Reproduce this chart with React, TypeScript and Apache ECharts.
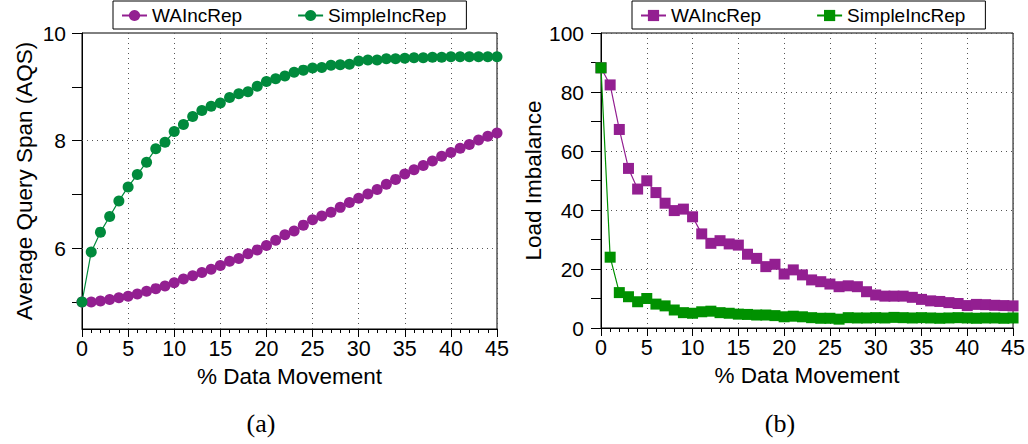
import React, { useEffect, useRef } from 'react';
import * as echarts from 'echarts';

const movement = [0, 1, 2, 3, 4, 5, 6, 7, 8, 9, 10, 11, 12, 13, 14, 15, 16, 17, 18, 19, 20, 21, 22, 23, 24, 25, 26, 27, 28, 29, 30, 31, 32, 33, 34, 35, 36, 37, 38, 39, 40, 41, 42, 43, 44, 45];

const waAqs = [5.0, 5.0, 5.02, 5.05, 5.08, 5.11, 5.15, 5.2, 5.25, 5.3, 5.36, 5.43, 5.49, 5.55, 5.61, 5.68, 5.76, 5.81, 5.9, 5.97, 6.05, 6.15, 6.25, 6.32, 6.43, 6.53, 6.6, 6.67, 6.76, 6.85, 6.93, 7.01, 7.09, 7.19, 7.28, 7.38, 7.46, 7.54, 7.62, 7.71, 7.78, 7.86, 7.93, 8.01, 8.08, 8.14];
const simpleAqs = [5.0, 5.93, 6.3, 6.59, 6.88, 7.14, 7.37, 7.6, 7.85, 7.97, 8.17, 8.3, 8.45, 8.56, 8.64, 8.7, 8.8, 8.87, 8.91, 9.01, 9.1, 9.15, 9.2, 9.27, 9.31, 9.35, 9.36, 9.4, 9.41, 9.42, 9.48, 9.5, 9.5, 9.52, 9.52, 9.53, 9.54, 9.54, 9.55, 9.55, 9.56, 9.56, 9.56, 9.56, 9.56, 9.56];

const waImb = [88.2, 82.4, 67.3, 54.1, 47.1, 49.9, 45.9, 42.3, 39.8, 40.3, 37.7, 31.9, 28.7, 29.6, 28.5, 28.1, 25.0, 23.6, 20.8, 21.6, 18.3, 19.7, 18.0, 16.3, 15.7, 14.9, 14.0, 14.3, 14.0, 12.3, 11.2, 10.8, 10.8, 10.8, 10.4, 9.7, 9.2, 9.0, 8.6, 8.3, 7.6, 8.0, 7.9, 7.7, 7.6, 7.5];
const simpleImb = [88.2, 24.0, 12.0, 10.6, 8.9, 10.0, 8.1, 7.5, 6.1, 5.2, 5.0, 5.5, 5.7, 5.2, 5.0, 4.7, 4.6, 4.4, 4.4, 4.2, 3.8, 4.0, 3.8, 3.5, 3.3, 3.3, 3.0, 3.5, 3.4, 3.4, 3.5, 3.4, 3.6, 3.5, 3.4, 3.5, 3.4, 3.3, 3.4, 3.5, 3.4, 3.3, 3.4, 3.4, 3.3, 3.4];

const aqsTicks = [5, 6, 7, 8, 9, 10];
const aqsLabels = [6, 8, 10];
const aqsGrid = [6, 8];

const seriesNames = ['WAIncRep', 'SimpleIncRep'];

const FONT = '"Liberation Sans", Arial, Helvetica, sans-serif';
const PURPLE = '#931F91';
const GREEN_A = '#008A3C';
const GREEN_B = '#009100';
const dotted = { color: '#555', width: 1, type: [1, 4] as any };

const pairs = (ys: number[]) => movement.map((x, i) => [x, ys[i]]);

function buildOption(): any {
  const xAxisBase = (gridIndex: number) => ({
    gridIndex,
    type: 'value',
    min: 0,
    max: 45,
    interval: 5,
    name: '% Data Movement',
    nameLocation: 'middle',
    nameGap: 33,
    nameTextStyle: { fontSize: 22.5, color: '#000', fontFamily: FONT },
    axisLine: { lineStyle: { color: '#000', width: 1 } },
    axisTick: { length: 8, lineStyle: { color: '#000' } },
    minorTick: { show: true, splitNumber: 5, length: 4, lineStyle: { color: '#000' } },
    axisLabel: { fontSize: 21.5, color: '#000', margin: 9, fontFamily: FONT },
    splitLine: { show: true, lineStyle: dotted },
  });
  const legendBase = {
    top: 1,
    itemWidth: 25,
    itemHeight: 14,
    itemGap: 55,
    padding: [5, 20, 4, 8],
    borderColor: '#000',
    borderWidth: 1,
    selectedMode: false,
    textStyle: { fontSize: 19, color: '#000', fontFamily: FONT },
  };
  return {
    animation: false,
    backgroundColor: '#fff',
    grid: [
      { left: 82, top: 33, width: 415, height: 296, show: true, borderColor: '#000', borderWidth: 1 },
      { left: 601, top: 33, width: 415, height: 295, show: true, borderColor: '#000', borderWidth: 1 },
    ],
    legend: [
      { ...legendBase, left: 113, data: seriesNames },
      { ...legendBase, left: 632, data: seriesNames.map((n) => n + '_b'), formatter: (n: string) => n.replace('_b', '') },
    ],
    xAxis: [xAxisBase(0), xAxisBase(1)],
    yAxis: [
      {
        gridIndex: 0,
        type: 'value',
        min: 4.5,
        max: 10,
        name: 'Average Query Span (AQS)',
        nameLocation: 'middle',
        nameGap: 46,
        nameTextStyle: { fontSize: 22.5, color: '#000', fontFamily: FONT },
        axisLine: { show: true, lineStyle: { color: '#000', width: 1 } },
        axisTick: { show: true, customValues: aqsTicks, length: 10, lineStyle: { color: '#000' } },
        axisLabel: { customValues: aqsLabels, fontSize: 21, color: '#000', margin: 16, fontFamily: FONT },
        splitLine: { show: false },
      },
      {
        gridIndex: 1,
        type: 'value',
        min: 0,
        max: 100,
        interval: 20,
        name: 'Load Imbalance',
        nameLocation: 'middle',
        nameGap: 45,
        nameTextStyle: { fontSize: 22.5, color: '#000', fontFamily: FONT },
        axisLine: { show: true, lineStyle: { color: '#000', width: 1 } },
        axisTick: { show: true, length: 10, lineStyle: { color: '#000' } },
        minorTick: { show: true, splitNumber: 2, length: 10, lineStyle: { color: '#000' } },
        axisLabel: { fontSize: 21, color: '#000', margin: 17, fontFamily: FONT },
        splitLine: { show: true, lineStyle: dotted },
      },
    ],
    graphic: [
      { type: 'text', x: 261, y: 423, style: { text: '(a)', fontSize: 26, fontFamily: '"Liberation Serif", serif', fill: '#000', align: 'center', verticalAlign: 'middle' } },
      { type: 'text', x: 780, y: 423, style: { text: '(b)', fontSize: 26, fontFamily: '"Liberation Serif", serif', fill: '#000', align: 'center', verticalAlign: 'middle' } },
    ],
    series: [
      {
        type: 'line',
        name: 'WAIncRep',
        xAxisIndex: 0,
        yAxisIndex: 0,
        data: pairs(waAqs),
        symbol: 'circle',
        symbolSize: 11,
        itemStyle: { color: PURPLE },
        lineStyle: { color: PURPLE, width: 1.2 },
        markLine: {
          silent: true,
          symbol: 'none',
          label: { show: false },
          lineStyle: dotted,
          z: 1,
          data: aqsGrid.map((v) => ({ yAxis: v })),
        },
      },
      {
        type: 'line',
        name: 'SimpleIncRep',
        xAxisIndex: 0,
        yAxisIndex: 0,
        data: pairs(simpleAqs),
        symbol: 'circle',
        symbolSize: 11,
        itemStyle: { color: GREEN_A },
        lineStyle: { color: GREEN_A, width: 1.2 },
      },
      {
        type: 'line',
        name: 'WAIncRep_b',
        xAxisIndex: 1,
        yAxisIndex: 1,
        data: pairs(waImb),
        symbol: 'rect',
        symbolSize: 11,
        itemStyle: { color: PURPLE },
        lineStyle: { color: PURPLE, width: 1.2 },
      },
      {
        type: 'line',
        name: 'SimpleIncRep_b',
        xAxisIndex: 1,
        yAxisIndex: 1,
        data: pairs(simpleImb),
        symbol: 'rect',
        symbolSize: 11,
        itemStyle: { color: GREEN_B },
        lineStyle: { color: GREEN_B, width: 1.2 },
      },
    ],
  };
}

export default function App() {
  const ref = useRef<HTMLDivElement>(null);
  useEffect(() => {
    if (!ref.current) return;
    const chart = echarts.init(ref.current, null, { renderer: 'svg' });
    chart.setOption(buildOption());
    return () => chart.dispose();
  }, []);
  return (
    <div
      ref={ref}
      style={{ position: 'absolute', left: 0, top: 0, width: 1028, height: 444, background: '#fff' }}
    />
  );
}
